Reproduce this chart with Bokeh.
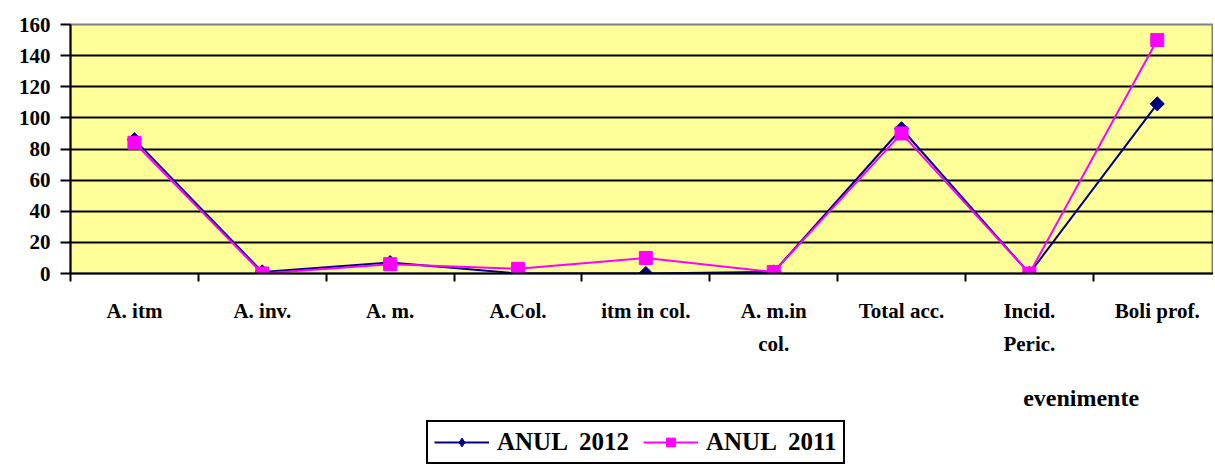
import math
from bokeh.plotting import figure
from bokeh.layouts import column
from bokeh.models import Range1d, FixedTicker, Legend, LegendItem, Label
from bokeh.embed import file_html
from bokeh.resources import INLINE

categories = ["A. itm", "A. inv.", "A. m.", "A.Col.", "itm in col.",
              "A. m.in\ncol.", "Total acc.", "Incid.\nPeric.", "Boli prof."]
anul_2012 = [86, 1, 7, 0, 0, 1, 93, 0, 109]
anul_2011 = [84, 0, 6, 3, 10, 1, 90, 0, 150]
y_ticks = [0, 20, 40, 60, 80, 100, 120, 140, 160]
series_labels = ["ANUL  2012", "ANUL  2011"]
x_axis_title = "evenimente"

FONT = "Liberation Serif"
C2012 = "#000080"
C2011 = "#FF00FF"
xs = [i + 0.5 for i in range(len(categories))]

p = figure(frame_width=1143, frame_height=249, output_backend="svg", toolbar_location=None,
           x_range=Range1d(0, 8.94), y_range=Range1d(0, 160),
           min_border_top=24, min_border_left=70, min_border_right=0, min_border_bottom=95)
p.background_fill_color = "#FFFF99"
p.border_fill_color = "white"
p.outline_line_color = "#808080"
p.outline_line_width = 2

# grid
p.xgrid.visible = False
p.ygrid.ticker = FixedTicker(ticks=y_ticks[1:-1])
p.ygrid.grid_line_color = "black"
p.ygrid.grid_line_width = 2

# y axis
p.yaxis.ticker = FixedTicker(ticks=y_ticks)
p.yaxis.axis_line_color = "black"
p.yaxis.axis_line_width = 2
p.yaxis.major_tick_line_color = "black"
p.yaxis.major_tick_line_width = 2
p.yaxis.major_tick_out = 10
p.yaxis.major_tick_in = 0
p.yaxis.minor_tick_line_color = None
p.yaxis.major_label_standoff = 10
p.yaxis.major_label_text_font = FONT
p.yaxis.major_label_text_font_style = "bold"
p.yaxis.major_label_text_font_size = "21px"
p.yaxis.major_label_text_color = "black"

# x axis
p.xaxis.ticker = FixedTicker(ticks=xs, minor_ticks=list(range(0, len(categories) + 1)))
p.xaxis.major_label_overrides = {xv: c for xv, c in zip(xs, categories)}
p.xaxis.axis_line_color = "black"
p.xaxis.axis_line_width = 2
p.xaxis.major_tick_line_color = None
p.xaxis.minor_tick_line_color = "black"
p.xaxis.minor_tick_line_width = 2
p.xaxis.minor_tick_out = 8
p.xaxis.minor_tick_in = 0
p.xaxis.major_label_standoff = 17
p.xaxis.major_label_text_font = FONT
p.xaxis.major_label_text_font_style = "bold"
p.xaxis.major_label_text_font_size = "21px"
p.xaxis.major_label_text_color = "black"
p.xaxis.major_label_text_line_height = 1.4

# series
p.line(xs, anul_2012, line_color=C2012, line_width=2)
p.scatter(xs, anul_2012, marker="square", angle=math.pi / 4, size=10,
          fill_color=C2012, line_color=C2012)
p.line(xs, anul_2011, line_color=C2011, line_width=2)
p.scatter(xs, anul_2011, marker="square", size=13, fill_color=C2011, line_color=C2011)

# bottom strip: axis title + legend
W2, H2 = 1213, 96
p2 = figure(width=W2, height=H2, output_backend="svg", toolbar_location=None,
            x_range=Range1d(0, W2), y_range=Range1d(0, H2),
            min_border=0, x_axis_type=None, y_axis_type=None)
p2.grid.visible = False
p2.outline_line_color = None
p2.background_fill_color = "white"
p2.border_fill_color = "white"

p2.add_layout(Label(text=x_axis_title, x=1011, y=H2 - 29, text_baseline="middle",
                    text_align="left", text_font=FONT, text_font_style="bold",
                    text_font_size="24px", text_color="black"))

# legend key renderers (single point kept outside the visible strip)
hx, hy = [-100], [-100]
k1 = p2.line(hx, hy, line_color=C2012, line_width=2)
m1 = p2.scatter(hx, hy, marker="diamond", size=16,
                fill_color=C2012, line_color=C2012)
k2 = p2.line(hx, hy, line_color=C2011, line_width=2)
m2 = p2.scatter(hx, hy, marker="square", size=13, fill_color=C2011, line_color=C2011)

legend = Legend(items=[LegendItem(label=series_labels[0], renderers=[k1, m1]),
                       LegendItem(label=series_labels[1], renderers=[k2, m2])],
                orientation="horizontal", location=(356, 0),
                border_line_color="black", border_line_width=2, border_line_alpha=1,
                background_fill_color="white", background_fill_alpha=1,
                label_text_font=FONT, label_text_font_style="bold", label_text_color="black",
                label_text_font_size="25px", glyph_width=55, glyph_height=22,
                spacing=14, padding=6, margin=0, label_standoff=8)
p2.add_layout(legend)

layout = column(p, p2, spacing=0)
open("out.html", "w").write(file_html(layout, INLINE))
